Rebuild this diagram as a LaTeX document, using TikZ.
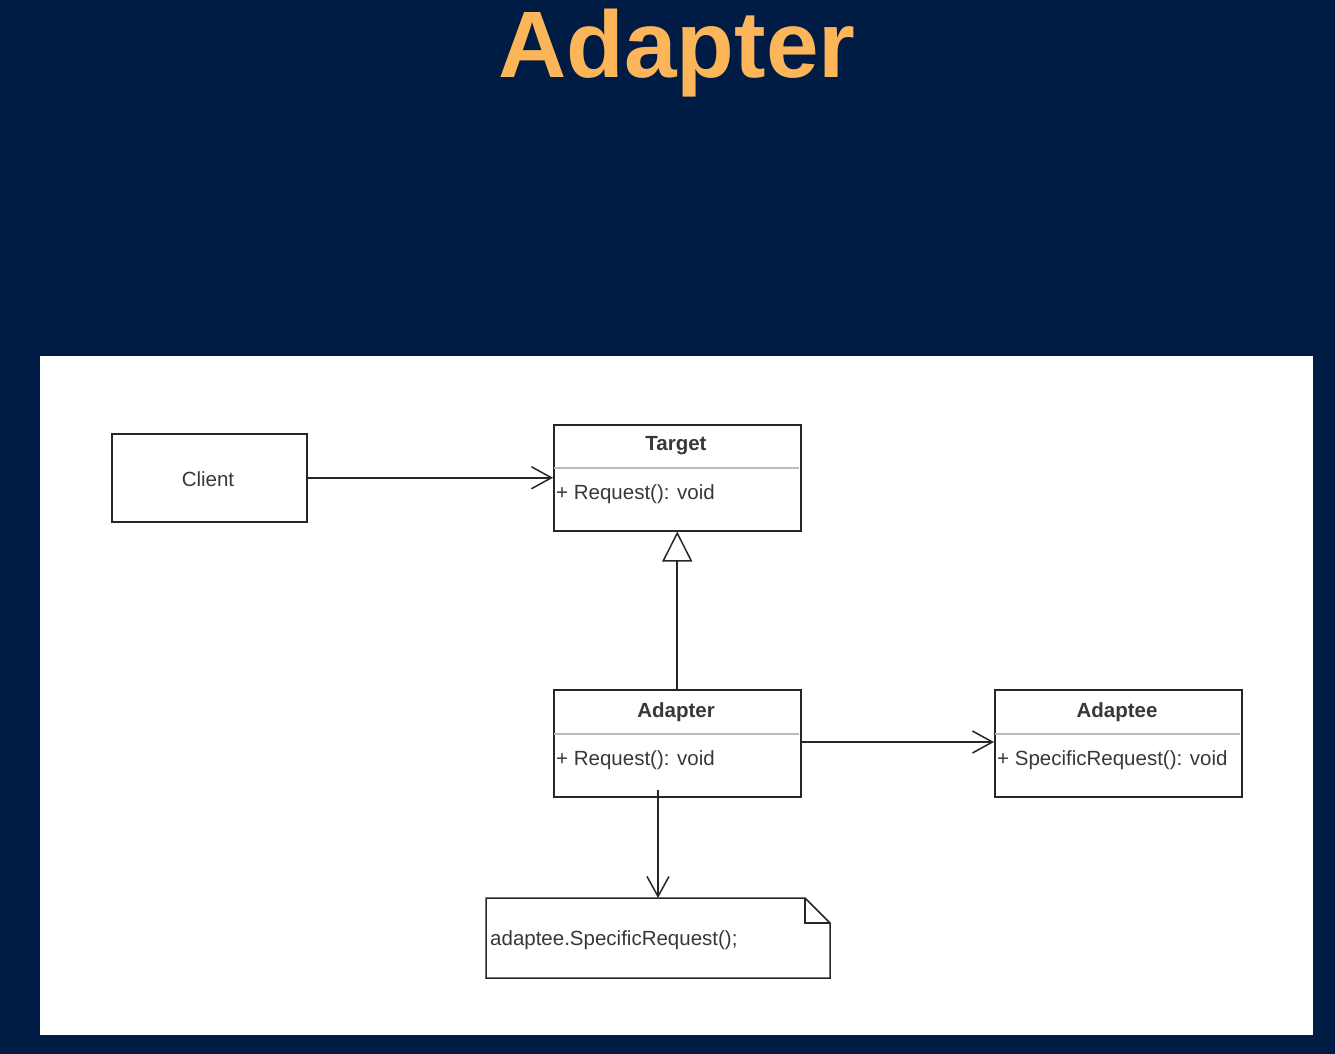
\documentclass[tikz,border=0pt]{standalone}
\usepackage{fontspec}
\setmainfont{Liberation Sans}
\usetikzlibrary{arrows.meta}
\definecolor{navy}{HTML}{001C45}
\definecolor{titleor}{HTML}{FDB55A}
\definecolor{txt}{HTML}{383838}
\definecolor{sepc}{HTML}{BBBBBB}
\tikzset{
  umlbox/.style={draw=black!85, line width=1.5pt, fill=white},
  sepline/.style={draw=sepc, line width=1.2pt},
  lbl/.style={text=txt, font=\fontsize{20.5}{24}\selectfont, inner sep=0pt},
  boldlbl/.style={lbl, font=\fontsize{20.5}{24}\selectfont\bfseries},
  assoc/.style={draw=black!85, line width=1.6pt, -{Straight Barb[length=20pt,width=22pt,line width=1.5pt]}},
  inherit/.style={draw=black!85, line width=1.6pt, -{Triangle[open,length=30pt,width=30pt,line width=1.5pt]}}
}
\begin{document}
\begin{tikzpicture}[x=1pt,y=-1pt]
\useasboundingbox (0,0) rectangle (1335,1054);
\fill[navy] (0,0) rectangle (1335,1054);
\node[text=titleor, font=\fontsize{94.5}{100}\selectfont\bfseries, anchor=base] (title) at (677,78) {Adapter};
\fill[white] (40,356) rectangle (1313,1035);

% Client
\node[umlbox, minimum width=195pt, minimum height=88pt, anchor=north west] (client) at (111,433) {};
\node[lbl] (clientlbl) at (208,479) {Client};

% Target
\node[umlbox, minimum width=247pt, minimum height=106pt, anchor=north west] (target) at (553,424) {};
\draw[sepline] (554,468) -- (799,468);
\node[boldlbl] (targetname) at (676,446) {Target};
\node[lbl, anchor=west] (targetop) at (556,494) {+ Request(): void};

% Adapter
\node[umlbox, minimum width=247pt, minimum height=107pt, anchor=north west] (adapter) at (553,689) {};
\draw[sepline] (554,734) -- (799,734);
\node[boldlbl] (adaptername) at (676,712) {Adapter};
\node[lbl, anchor=west] (adapterop) at (556,760) {+ Request(): void};

% Adaptee
\node[umlbox, minimum width=247pt, minimum height=107pt, anchor=north west] (adaptee) at (994,689) {};
\draw[sepline] (995,734) -- (1240,734);
\node[boldlbl] (adapteename) at (1117,712) {Adaptee};
\node[lbl, anchor=west] (adapteeop) at (997,760) {+ SpecificRequest(): void};

% Note
\draw[umlbox] (486,898) -- (805,898) -- (830,923) -- (830,978) -- (486,978) -- cycle;
\draw[draw=black!85, line width=1.5pt] (805,898) -- (805,923) -- (830,923);
\node[lbl, anchor=west] (notetext) at (490,940) {adaptee.SpecificRequest();};
\coordinate (notetop) at (658,898);

% Connectors
\draw[assoc] (client.east) -- (client.east -| target.west);
\draw[inherit] (adapter.north) -- (target.south);
\draw[assoc] (adapter.east |- 0,742) -- (adaptee.west |- 0,742);
\coordinate (adstart) at (658,790);
\draw[assoc] (adstart) -- (notetop);
\end{tikzpicture}
\end{document}
